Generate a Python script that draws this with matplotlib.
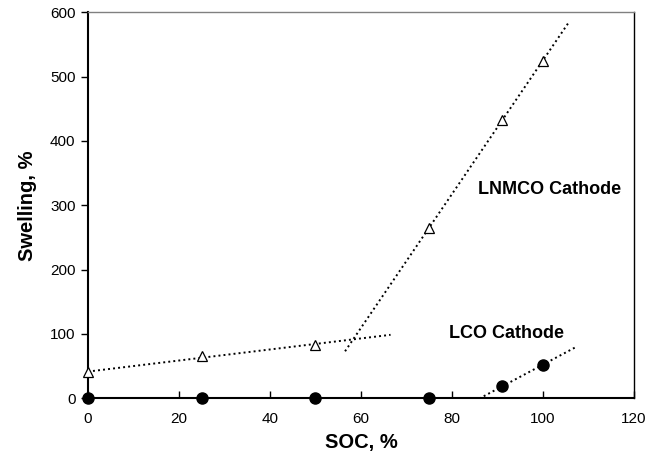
import numpy as np
import matplotlib.pyplot as plt

plt.rcParams['font.family'] = ['Liberation Sans', 'DejaVu Sans']

# data
soc = [0, 25, 50, 75, 91, 100]
lnmco = [40, 65, 83, 265, 433, 525]
lco = [0, 0, 0, 0, 18, 52]

# trend line ranges (x extents of the dotted fits)
fit1_idx, fit1_x = [0, 1, 2], [0, 66.5]
fit2_idx, fit2_x = [3, 4, 5], [56.5, 105.5]
fit3_idx, fit3_x = [4, 5], [86, 107.5]

fig = plt.figure(figsize=(6.6, 4.54), dpi=100)
ax = fig.add_axes([0.1333, 0.1233, 0.8273, 0.8492])

x = np.array(soc, dtype=float)
for ys, idx, xr in [(lnmco, fit1_idx, fit1_x), (lnmco, fit2_idx, fit2_x), (lco, fit3_idx, fit3_x)]:
    ys = np.array(ys, dtype=float)
    k, b = np.polyfit(x[idx], ys[idx], 1)
    xx = np.array(xr)
    ax.plot(xx, k * xx + b, color='black', linestyle=(0, (1, 1.6)), lw=1.4, zorder=2)

ax.plot(soc, lnmco, linestyle='none', marker='^', markersize=7, markerfacecolor='white',
        markeredgecolor='black', markeredgewidth=0.9, zorder=3, clip_on=False)
ax.plot(soc, lco, linestyle='none', marker='o', markersize=8, color='black', zorder=4, clip_on=False)

ax.text(101.5, 325, 'LNMCO Cathode', fontsize=13, fontweight='bold', ha='center', va='center')
ax.text(92, 100, 'LCO Cathode', fontsize=13, fontweight='bold', ha='center', va='center')

ax.set_xlim(0, 120)
ax.set_ylim(0, 600)
ax.set_xticks(range(0, 121, 20))
ax.set_yticks(range(0, 601, 100))
ax.tick_params(axis='x', direction='in', length=5, width=1, labelsize=11, pad=10)
ax.tick_params(axis='y', direction='out', length=5, width=1, labelsize=11, pad=4)

ax.set_xlabel('SOC, %', fontsize=14.5, fontweight='bold', labelpad=5)
ax.set_ylabel('Swelling, %', fontsize=14.5, fontweight='bold', labelpad=9)

ax.spines['left'].set_linewidth(1.5)
ax.spines['bottom'].set_linewidth(1.5)
ax.spines['top'].set_color('#808080')
ax.spines['top'].set_linewidth(1)
ax.spines['right'].set_linewidth(1)

fig.savefig('out.png', dpi=100)
